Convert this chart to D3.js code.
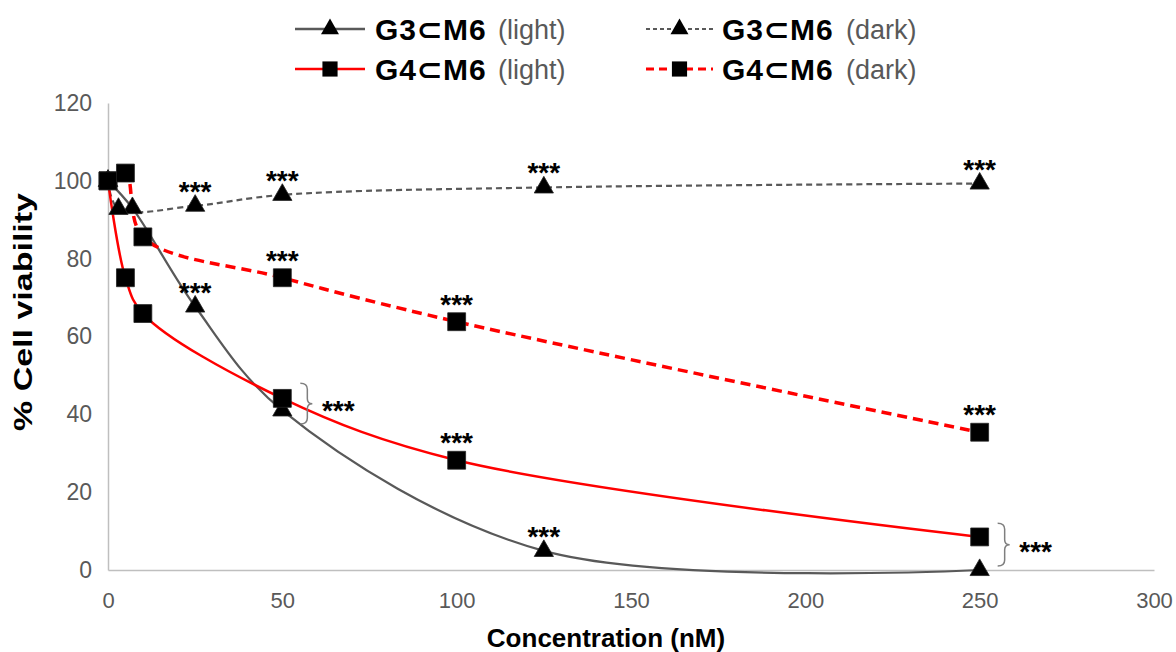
<!DOCTYPE html>
<html>
<head>
<meta charset="utf-8">
<script src="https://cdn.jsdelivr.net/npm/d3@7"></script>
<style>
    body { margin: 0; background: #fff; }
    svg { display: block; font-family: "Liberation Sans", Arial, sans-serif; }
</style>
</head>
<body>
<svg></svg>
<script>
// values
const concG3Light = [0, 7, 25, 50, 125, 250];
const viabG3Light = [100, 93, 67.7, 41, 4.9, 0];
const concG3Dark = [0, 3, 25, 50, 125, 250];
const viabG3Dark = [100, 92.8, 93.6, 96.4, 98.3, 99.3];
const concG4Light = [0, 5, 10, 50, 100, 250];
const viabG4Light = [100, 75.1, 65.9, 44.1, 28.2, 8.5];
const concG4Dark = [0, 5, 10, 50, 100, 250];
const viabG4Dark = [100, 102, 85.6, 75.1, 63.8, 35.4];

const xTicks = [0, 50, 100, 150, 200, 250, 300];
const yTicks = [0, 20, 40, 60, 80, 100, 120];

// where the *** marks sit
const starsG3Dark = [25, 50, 125, 250];
const starsG4Dark = [50, 100, 250];
const starsG3Light = [25, 125];
const starsG4Light = [100];
const bracketConc = [50, 250];
const bracketHigh = [48, 12];
const bracketLow = [37.5, 1];

const width = 1176;
const height = 652;
const svg = d3.select("svg").attr("width", width).attr("height", height);

const x = d3.scaleLinear().domain([0, 300]).range([108, 1154]);
const y = d3.scaleLinear().domain([0, 120]).range([570, 103]);

const series = [
    { label: "G3⊂M6", cond: "(light)", xs: concG3Light, ys: viabG3Light, stars: starsG3Light,
      color: "#595959", dash: null, lw: 2.25, shape: "tri" },
    { label: "G3⊂M6", cond: "(dark)", xs: concG3Dark, ys: viabG3Dark, stars: starsG3Dark,
      color: "#595959", dash: "6,4", lw: 2.2, shape: "tri" },
    { label: "G4⊂M6", cond: "(light)", xs: concG4Light, ys: viabG4Light, stars: starsG4Light,
      color: "#ff0000", dash: null, lw: 2.5, shape: "sq" },
    { label: "G4⊂M6", cond: "(dark)", xs: concG4Dark, ys: viabG4Dark, stars: starsG4Dark,
      color: "#ff0000", dash: "10,6", lw: 3.5, shape: "sq" }
];

const triSym = d3.symbol().type(d3.symbolTriangle);
const sqSym = d3.symbol().type(d3.symbolSquare);

// -------------------- AXES --------------------
const xAxis = svg.append("g")
    .attr("transform", `translate(0, ${y(0)})`)
    .call(d3.axisBottom(x).tickValues(xTicks).tickSize(0).tickSizeOuter(0).tickPadding(22));
xAxis.select(".domain").attr("stroke", "#bfbfbf").attr("stroke-width", 1.5);
xAxis.selectAll("text").attr("font-size", "22px").attr("fill", "#595959")
    .attr("font-family", "Liberation Sans, Arial, sans-serif");

const yAxis = svg.append("g")
    .attr("transform", `translate(${x(0)}, 0)`)
    .call(d3.axisLeft(y).tickValues(yTicks).tickSize(0).tickSizeOuter(0).tickPadding(16));
yAxis.select(".domain").attr("stroke", "#bfbfbf").attr("stroke-width", 1.5);
yAxis.selectAll("text").attr("font-size", "23px").attr("fill", "#595959")
    .attr("font-family", "Liberation Sans, Arial, sans-serif");

svg.append("text")
    .attr("x", 606)
    .attr("y", 647)
    .attr("text-anchor", "middle")
    .attr("font-size", "26px")
    .attr("font-weight", "bold")
    .text("Concentration (nM)");

svg.append("text")
    .attr("transform", "translate(23, 312) rotate(-90) scale(1.36, 1)")
    .attr("text-anchor", "middle")
    .attr("dy", "0.35em")
    .attr("font-size", "25px")
    .attr("font-weight", "bold")
    .text("% Cell viability");

// -------------------- LINES --------------------
const line = d3.line()
    .x(d => x(d[0]))
    .y(d => y(d[1]))
    .curve(d3.curveCatmullRom.alpha(0.5));

series.forEach(s => {
    const pts = s.xs.map((c, i) => [c, s.ys[i]]);
    svg.append("path")
        .attr("d", line(pts))
        .attr("fill", "none")
        .attr("stroke", s.color)
        .attr("stroke-width", s.lw)
        .attr("stroke-dasharray", s.dash);
});

// markers: triangles first, squares on top
series.forEach(s => {
    const pts = s.xs.map((c, i) => [c, s.ys[i]]);
    svg.append("g").selectAll("path")
        .data(pts)
        .enter().append("path")
        .attr("d", s.shape === "tri" ? triSym.size(160)() : sqSym.size(320)())
        .attr("transform", d => `translate(${x(d[0])}, ${y(d[1])})`)
        .attr("fill", "#000")
        .attr("stroke", "#222")
        .attr("stroke-width", 0.8);
});

// -------------------- STARS --------------------
series.forEach(s => {
    const off = s.shape === "tri" ? 5 : 8;
    s.stars.forEach(c => {
        const v = s.ys[s.xs.indexOf(c)];
        svg.append("text")
            .attr("x", x(c))
            .attr("y", y(v) - off)
            .attr("text-anchor", "middle")
            .attr("font-size", "28px")
            .attr("font-weight", "bold")
            .text("***");
    });
});

bracketConc.forEach((c, i) => {
    const bx = x(c) + 18;
    const top = y(bracketHigh[i]);
    const bot = y(bracketLow[i]);
    const mid = (top + bot) / 2;
    svg.append("path")
        .attr("d", `M${bx},${top} Q${bx + 7},${top} ${bx + 7},${top + 6} L${bx + 7},${mid - 5}` +
            ` Q${bx + 7},${mid} ${bx + 12},${mid} Q${bx + 7},${mid} ${bx + 7},${mid + 5}` +
            ` L${bx + 7},${bot - 6} Q${bx + 7},${bot} ${bx},${bot}`)
        .attr("fill", "none")
        .attr("stroke", "#7f7f7f")
        .attr("stroke-width", 1.5);
    svg.append("text")
        .attr("x", bx + 38)
        .attr("y", mid + 16)
        .attr("text-anchor", "middle")
        .attr("font-size", "28px")
        .attr("font-weight", "bold")
        .text("***");
});

// -------------------- LEGEND --------------------
const legendCols = [295, 646];
const legendRows = [29, 69];
const legendCondX = [203, 200];
series.forEach((s, k) => {
    const col = k % 2;
    const lx = legendCols[col];
    const ly = legendRows[Math.floor(k / 2)];
    const lineLen = col === 0 ? 70 : 67;
    const g = svg.append("g").attr("transform", `translate(${lx}, ${ly})`);
    g.append("line")
        .attr("x1", 0).attr("x2", lineLen)
        .attr("y1", 0).attr("y2", 0)
        .attr("stroke", s.color)
        .attr("stroke-width", s.dash ? (s.shape === "sq" ? 3 : 1.8) : 2.5)
        .attr("stroke-dasharray", s.dash ? (s.shape === "sq" ? "8,5" : "4,3") : null);
    g.append("path")
        .attr("d", s.shape === "tri" ? triSym.size(140)() : sqSym.size(230)())
        .attr("transform", `translate(${lineLen / 2}, 0)`)
        .attr("fill", "#000");
    g.append("text")
        .attr("x", lineLen + (col === 0 ? 10 : 9))
        .attr("dy", "0.36em")
        .attr("font-size", "30px")
        .attr("font-weight", "bold")
        .attr("letter-spacing", "1px")
        .attr("fill", "#000")
        .text(s.label);
    g.append("text")
        .attr("x", legendCondX[col])
        .attr("dy", "0.36em")
        .attr("font-size", "27px")
        .attr("fill", "#595959")
        .text(s.cond);
});
</script>
</body>
</html>
